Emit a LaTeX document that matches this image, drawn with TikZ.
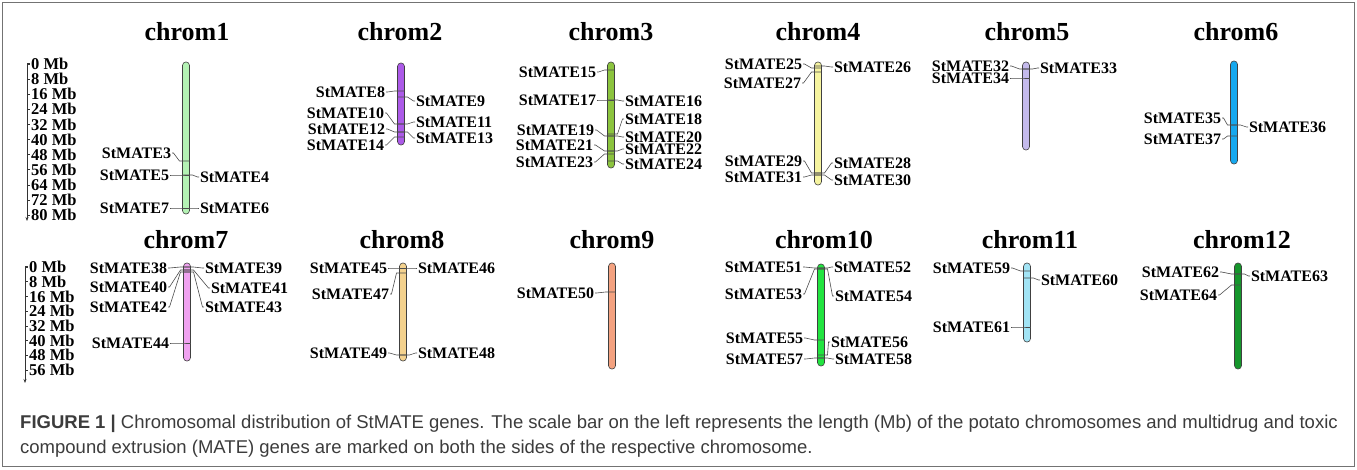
\documentclass[tikz,border=0pt]{standalone}
\usepackage{fontspec}
\setmainfont{Liberation Serif}
\newfontfamily\capfont{Liberation Sans}
\usetikzlibrary{calc,arrows.meta}
\definecolor{cA}{RGB}{180,242,180}
\definecolor{cB}{RGB}{172,90,232}
\definecolor{cC}{RGB}{140,196,62}
\definecolor{cD}{RGB}{246,244,160}
\definecolor{cE}{RGB}{196,186,236}
\definecolor{cF}{RGB}{22,168,238}
\definecolor{cG}{RGB}{240,162,240}
\definecolor{cH}{RGB}{244,210,142}
\definecolor{cI}{RGB}{244,162,128}
\definecolor{cJ}{RGB}{34,228,64}
\definecolor{cK}{RGB}{162,228,245}
\definecolor{cL}{RGB}{22,150,44}
\definecolor{captxt}{RGB}{60,60,60}
\tikzset{
  chrbar/.style={draw=black!75, line width=0.6pt, rounded corners=3.4pt, minimum width=7pt, inner sep=0pt},
  gl/.style={font=\bfseries\fontsize{16}{16}\selectfont, inner sep=0.8pt},
  ttl/.style={font=\bfseries\fontsize{26}{26}\selectfont, inner sep=0pt},
  sl/.style={font=\bfseries\fontsize{16.5}{16.5}\selectfont, inner sep=0pt, anchor=west},
  conn/.style={draw=black!70, line width=0.6pt},
}
% #1 bar x, #2 gene number, #3 label right x, #4 label y, #5 gene y
\newcommand{\geneL}[5]{%
  \node[gl,anchor=east] (g#2) at (#3,#4) {StMATE#2};
  \coordinate (m#2) at (#1,#5);
  \draw[conn] (g#2.east) -- ++(1.5,0) -- ($(m#2)+(-6.5,0)$) -- ($(m#2)+(3.5,0)$);
}
% #1 bar x, #2 gene number, #3 label left x, #4 label y, #5 gene y
\newcommand{\geneR}[5]{%
  \node[gl,anchor=west] (g#2) at (#3,#4) {StMATE#2};
  \coordinate (m#2) at (#1,#5);
  \draw[conn] ($(m#2)+(-3.5,0)$) -- ($(m#2)+(6.5,0)$) -- ($(g#2.west)+(-1.5,0)$) -- (g#2.west);
}
% #1 name, #2 x, #3 top, #4 bottom, #5 colour
\newcommand{\chrbar}[5]{%
  \node[chrbar, fill=#5, minimum height={(#4)-(#3)}] (#1) at (#2,{((#3)+(#4))/2}) {};
}
\begin{document}
\begin{tikzpicture}[x=1pt,y=-1pt]
\useasboundingbox (0,0) rectangle (1357,469);
\fill[white] (0,0) rectangle (1357,469);
\draw[black!55, line width=1.2pt] (2.5,2.5) rectangle (1354.5,466.5);

% scale bars
\draw[black!80, line width=0.6pt, -{Stealth[length=4pt,width=3pt]}] (30,63) -- (27,63) -- (27,221);
\foreach \i in {0,...,10} {
  \pgfmathtruncatemacro{\mb}{8*\i}
  \draw[black!80, line width=0.6pt] (27,{64+15.1*\i}) -- (30,{64+15.1*\i});
  \node[sl] (sa\i) at (31,{64+15.1*\i}) {\mb\ Mb};
}
\draw[black!80, line width=0.6pt, -{Stealth[length=4pt,width=3pt]}] (28,266) -- (25,266) -- (25,383);
\foreach \i in {0,...,7} {
  \pgfmathtruncatemacro{\mb}{8*\i}
  \draw[black!80, line width=0.6pt] (25,{267+14.7*\i}) -- (28,{267+14.7*\i});
  \node[sl] (sb\i) at (29,{267+14.7*\i}) {\mb\ Mb};
}

% titles
\node[ttl] (t1) at (187,32) {chrom1};
\node[ttl] (t2) at (400,32) {chrom2};
\node[ttl] (t3) at (611,32) {chrom3};
\node[ttl] (t4) at (818,32) {chrom4};
\node[ttl] (t5) at (1027,32) {chrom5};
\node[ttl] (t6) at (1236,32) {chrom6};
\node[ttl] (t7) at (186,240) {chrom7};
\node[ttl] (t8) at (402,240) {chrom8};
\node[ttl] (t9) at (612,240) {chrom9};
\node[ttl] (t10) at (824,240) {chrom10};
\node[ttl] (t11) at (1030,240) {chrom11};
\node[ttl] (t12) at (1242,240) {chrom12};

% chromosomes
\chrbar{c1}{186}{62}{214}{cA}
\chrbar{c2}{401}{63}{145}{cB}
\chrbar{c3}{611}{62}{168}{cC}
\chrbar{c4}{818}{62}{185}{cD}
\chrbar{c5}{1026}{62}{150}{cE}
\chrbar{c6}{1234}{61}{164}{cF}
\chrbar{c7}{187}{263}{361}{cG}
\chrbar{c8}{403}{263}{361}{cH}
\chrbar{c9}{612}{263}{369}{cI}
\chrbar{c10}{821}{264}{366}{cJ}
\chrbar{c11}{1027}{263}{342}{cK}
\chrbar{c12}{1238}{263}{369}{cL}

% chrom1
\geneL{186}{3}{172}{153}{161}
\geneL{186}{5}{170}{175}{175}
\geneL{186}{7}{170}{208}{208}
\geneR{186}{4}{199}{177}{175}
\geneR{186}{6}{199}{208}{208}
% chrom2
\geneL{401}{8}{386}{92}{91}
\geneL{401}{10}{385}{113}{124}
\geneL{401}{12}{386}{129}{132}
\geneL{401}{14}{385}{145}{137}
\geneR{401}{9}{415}{101}{97}
\geneR{401}{11}{415}{122}{124}
\geneR{401}{13}{415}{138}{132}
% chrom3
\geneL{611}{15}{597}{72}{70}
\geneL{611}{17}{597}{100}{100}
\geneL{611}{19}{595}{130}{136}
\geneL{611}{21}{594}{145}{151}
\geneL{611}{23}{594}{162}{154}
\geneR{611}{16}{624}{101}{100}
\geneR{611}{18}{624}{119}{134}
\geneR{611}{20}{624}{137}{136}
\geneR{611}{22}{624}{149}{151}
\geneR{611}{24}{624}{164}{161}
% chrom4
\geneL{818}{25}{803}{64}{68}
\geneL{818}{27}{802}{83}{72}
\geneL{818}{29}{803}{161}{173}
\geneL{818}{31}{803}{177}{175}
\geneR{818}{26}{833}{67}{66}
\geneR{818}{28}{833}{163}{173}
\geneR{818}{30}{833}{180}{175}
% chrom5
\geneL{1026}{32}{1010}{66}{69}
\geneL{1026}{34}{1010}{78}{78}
\geneR{1026}{33}{1039}{68}{69}
% chrom6
\geneL{1234}{35}{1222}{118}{125}
\geneL{1234}{37}{1222}{139}{136}
\geneR{1234}{36}{1248}{127}{125}
% chrom7
\geneL{187}{38}{168}{268}{267}
\geneL{187}{40}{168}{287}{270}
\geneL{187}{42}{168}{307}{272}
\geneL{187}{44}{170}{343}{343}
\geneR{187}{39}{204}{268}{267}
\geneR{187}{41}{210}{288}{270}
\geneR{187}{43}{204}{307}{272}
% chrom8
\geneL{403}{45}{388}{268}{268}
\geneL{403}{47}{390}{294}{273}
\geneL{403}{49}{388}{353}{355}
\geneR{403}{46}{417}{268}{268}
\geneR{403}{48}{417}{353}{355}
% chrom9
\geneL{612}{50}{595}{293}{292}
% chrom10
\geneL{821}{51}{803}{267}{268}
\geneL{821}{53}{803}{294}{269}
\geneL{821}{55}{804}{338}{340}
\geneL{821}{57}{804}{359}{358}
\geneR{821}{52}{833}{267}{268}
\geneR{821}{54}{834}{296}{269}
\geneR{821}{56}{830}{342}{355}
\geneR{821}{58}{834}{359}{358}
% chrom11
\geneL{1027}{59}{1011}{268}{271}
\geneL{1027}{61}{1011}{327}{327}
\geneR{1027}{60}{1040}{280}{278}
% chrom12
\geneL{1238}{62}{1220}{272}{274}
\geneL{1238}{64}{1218}{295}{285}
\geneR{1238}{63}{1250}{276}{274}

% caption
\node[anchor=north west, inner sep=0pt, align=left, text=captxt,
      font=\capfont\fontsize{18.5}{25}\selectfont] (cap) at (20,415)
 {\textbf{FIGURE 1 |} Chromosomal distribution of StMATE genes. The scale bar on the left represents the length (Mb) of the potato chromosomes and multidrug and toxic\\
  compound extrusion (MATE) genes are marked on both the sides of the respective chromosome.};
\end{tikzpicture}
\end{document}
